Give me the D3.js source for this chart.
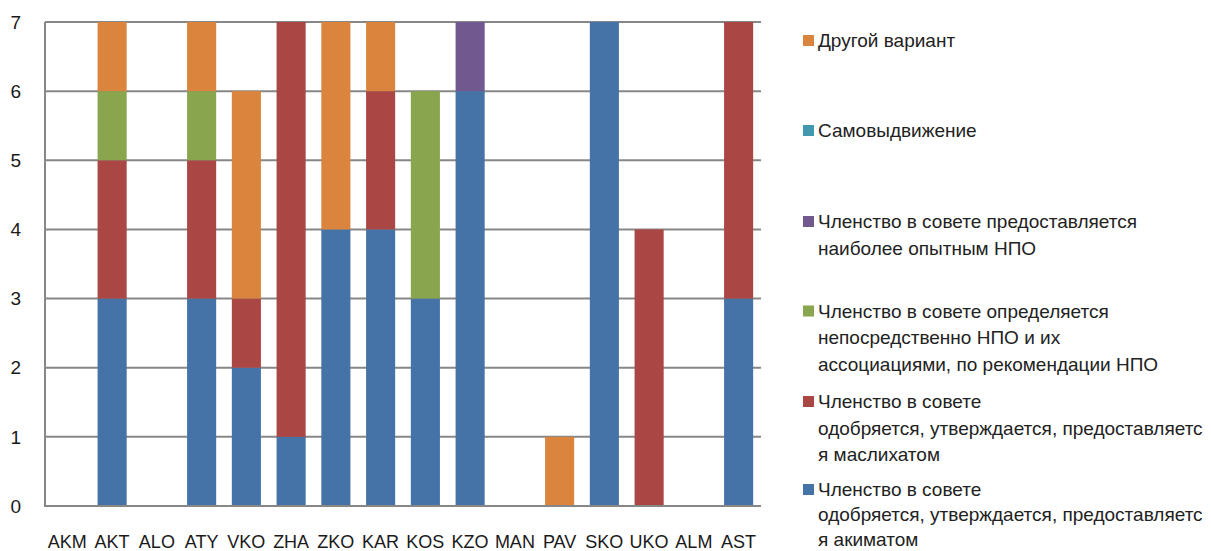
<!DOCTYPE html>
<html>
<head>
<meta charset="utf-8">
<script src="https://cdn.jsdelivr.net/npm/d3@7/dist/d3.min.js"></script>
<style>
  html, body { margin: 0; padding: 0; background: #fff; }
  svg { display: block; }
  text { font-family: "Liberation Sans", Arial, sans-serif; }
</style>
</head>
<body>
<svg id="chart" width="1211" height="551"></svg>
<script>
const categories = ["AKM","AKT","ALO","ATY","VKO","ZHA","ZKO","KAR","KOS","KZO","MAN","PAV","SKO","UKO","ALM","AST"];

const akimat     = [0,3,0,3,2,1,4,4,3,6,0,0,7,0,0,3];
const maslikhat  = [0,2,0,2,1,6,0,2,0,0,0,0,0,4,0,4];
const ngoAssoc   = [0,1,0,1,0,0,0,0,3,0,0,0,0,0,0,0];
const experienced= [0,0,0,0,0,0,0,0,0,1,0,0,0,0,0,0];
const selfNom    = [0,0,0,0,0,0,0,0,0,0,0,0,0,0,0,0];
const other      = [0,1,0,1,3,0,3,1,0,0,0,1,0,0,0,0];

const yTicks = [0,1,2,3,4,5,6,7];

const seriesKeys = ["akimat","maslikhat","ngoAssoc","experienced","selfNom","other"];
const seriesValues = {akimat, maslikhat, ngoAssoc, experienced, selfNom, other};
const seriesColors = {
  akimat: "#4572A7", maslikhat: "#AA4643", ngoAssoc: "#89A54E",
  experienced: "#71588F", selfNom: "#4198AF", other: "#DB843D"
};
const seriesLabels = {
  other: ["Другой вариант"],
  selfNom: ["Самовыдвижение"],
  experienced: ["Членство в совете предоставляется", "наиболее опытным НПО"],
  ngoAssoc: ["Членство в совете определяется", "непосредственно НПО и их", "ассоциациями, по рекомендации НПО"],
  maslikhat: ["Членство в совете", "одобряется, утверждается, предоставляетс", "я маслихатом"],
  akimat: ["Членство в совете", "одобряется, утверждается, предоставляетс", "я акиматом"]
};
const legendOrder = ["other","selfNom","experienced","ngoAssoc","maslikhat","akimat"];
const legendBaseline = [47, 137, 228, 317.5, 408, 496];
const legendLineStep = [26.5, 26.5, 26.5, 26.5, 26.5, 25];

const table = categories.map((c, i) => {
  const row = {cat: c};
  seriesKeys.forEach(k => row[k] = seriesValues[k][i]);
  return row;
});

const svg = d3.select("#chart");
const plotLeft = 45, plotRight = 761, plotTop = 22, plotBottom = 506;

const x = d3.scaleBand().domain(categories).range([plotLeft, plotRight]).paddingInner(0.35).paddingOuter(0.175);
const y = d3.scaleLinear().domain([0, 7]).range([plotBottom, plotTop]);

// gridlines
svg.append("g").selectAll("line").data(yTicks).join("line")
  .attr("x1", plotLeft).attr("x2", plotRight)
  .attr("y1", d => y(d)).attr("y2", d => y(d))
  .attr("stroke", "#878787").attr("stroke-width", 2);

// bars
const stack = d3.stack().keys(seriesKeys)(table);
svg.append("g").selectAll("g").data(stack).join("g")
  .attr("fill", d => seriesColors[d.key])
  .selectAll("rect").data(d => d.filter(p => p[1] - p[0] > 0)).join("rect")
  .attr("x", d => x(d.data.cat))
  .attr("width", x.bandwidth())
  .attr("y", d => y(d[1]))
  .attr("height", d => y(d[0]) - y(d[1]));

// axis lines
svg.append("line").attr("x1", plotLeft).attr("x2", plotLeft).attr("y1", plotTop).attr("y2", plotBottom + 1)
  .attr("stroke", "#878787").attr("stroke-width", 2);
svg.append("line").attr("x1", plotLeft - 1).attr("x2", plotRight).attr("y1", plotBottom).attr("y2", plotBottom)
  .attr("stroke", "#878787").attr("stroke-width", 2);

// y tick labels
svg.append("g").selectAll("text").data(yTicks).join("text")
  .attr("x", 21).attr("y", d => y(d)).attr("dy", "0.35em")
  .attr("text-anchor", "end").attr("font-size", 19).attr("fill", "#1a1a1a")
  .text(d => d);

// x labels
svg.append("g").selectAll("text").data(categories).join("text")
  .attr("x", d => x(d) + x.bandwidth() / 2).attr("y", 548)
  .attr("text-anchor", "middle").attr("font-size", 18).attr("fill", "#1a1a1a")
  .text(d => d);

// legend
const lg = svg.append("g");
legendOrder.forEach((k, i) => {
  const g = lg.append("g");
  g.append("rect").attr("x", 803).attr("y", legendBaseline[i] - 12).attr("width", 11).attr("height", 11)
    .attr("fill", seriesColors[k]);
  seriesLabels[k].forEach((line, j) => {
    g.append("text").attr("x", 818).attr("y", legendBaseline[i] + j * legendLineStep[i])
      .attr("font-size", 19).attr("fill", "#222")
      .text(line);
  });
});
</script>
</body>
</html>
